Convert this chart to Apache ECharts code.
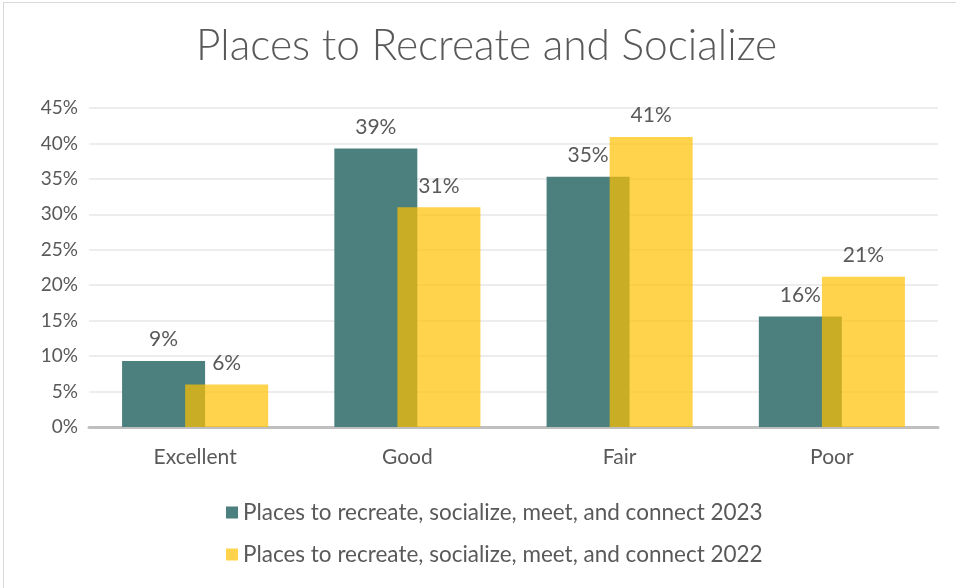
<!DOCTYPE html>
<html>
<head>
<meta charset="utf-8">
<script src="https://cdn.jsdelivr.net/npm/echarts@6/dist/echarts.min.js"></script>
<style>
  html, body { margin: 0; padding: 0; background: #fff; overflow: hidden; }
  #frame { position: absolute; left: 3px; top: 2px; width: 1000px; height: 640px; border: 1px solid #D9D9D9; box-sizing: border-box; }
  #chart { position: absolute; left: 0; top: 0; width: 956px; height: 588px; }
</style>
</head>
<body>
<div id="frame"></div>
<div id="chart"></div>
<script>
const categories = ['Excellent', 'Good', 'Fair', 'Poor'];
const seriesNames = [
  'Places to recreate, socialize, meet, and connect 2023',
  'Places to recreate, socialize, meet, and connect 2022'
];
const values2023 = [9.3, 39.3, 35.3, 15.6];
const values2022 = [6.0, 31.0, 40.9, 21.2];
const yTicks = [0, 5, 10, 15, 20, 25, 30, 35, 40, 45];

const FONT = 'Lato, "Open Sans", sans-serif';
const TEXT = '#595959';

const chart = echarts.init(document.getElementById('chart'), null, { renderer: 'canvas' });

const labelStyle = {
  show: true,
  position: 'top',
  distance: 11,
  fontFamily: FONT,
  fontSize: 21,
  color: TEXT,
  formatter: p => Math.round(p.value) + '%'
};

chart.setOption({
  backgroundColor: 'transparent',
  animation: false,
  title: {
    text: 'Places to Recreate and Socialize',
    left: 196,
    top: 25,
    padding: 0,
    textStyle: { fontFamily: FONT, fontSize: 42.5, fontWeight: 300, color: TEXT }
  },
  legend: {
    orient: 'vertical',
    left: 221,
    top: 496,
    itemWidth: 12,
    itemHeight: 12,
    itemGap: 19,
    icon: 'rect',
    textStyle: { fontFamily: FONT, fontSize: 22.5, color: TEXT, padding: [0, 0, 0, 0] },
    data: seriesNames
  },
  grid: { left: 89, right: 18, top: 108, bottom: 161, containLabel: false },
  xAxis: {
    type: 'category',
    data: categories,
    axisLine: { lineStyle: { color: '#BFBFBF', width: 3 } },
    axisTick: { show: false },
    axisLabel: { fontFamily: FONT, fontSize: 21, color: TEXT, margin: 20 }
  },
  yAxis: {
    type: 'value',
    min: yTicks[0],
    max: yTicks[yTicks.length - 1],
    interval: 5,
    axisLine: { show: false },
    axisTick: { show: false },
    splitLine: { lineStyle: { color: '#EDEDED', width: 2 } },
    axisLabel: { fontFamily: FONT, fontSize: 19, color: TEXT, margin: 11, formatter: v => v + '%' }
  },
  series: [
    {
      name: seriesNames[0],
      type: 'bar',
      data: values2023,
      barWidth: 83,
      barGap: '-24%',
      itemStyle: { color: '#4C807E' },
      label: labelStyle,
      z: 2
    },
    {
      name: seriesNames[1],
      type: 'bar',
      data: values2022,
      barWidth: 83,
      barGap: '-24%',
      itemStyle: { color: 'rgba(255,192,0,0.7)' },
      label: labelStyle,
      z: 3
    }
  ]
});
</script>
</body>
</html>
